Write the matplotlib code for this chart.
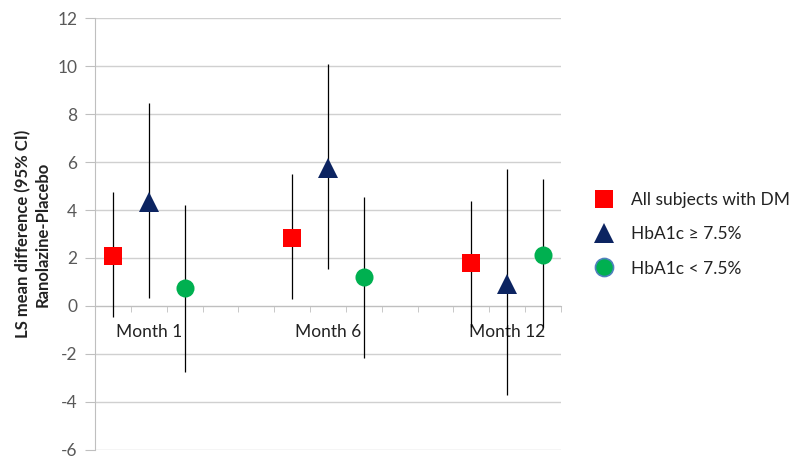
import numpy as np
import matplotlib.pyplot as plt
from matplotlib.lines import Line2D

# 13 category slots, like the original spreadsheet layout
categories = ["", "Month 1", "", "", "", "", "Month 6", "", "", "", "", "Month 12", ""]
nan = np.nan

# LS mean difference and 95% CI per series (NaN = empty slot)
all_dm = [2.1, nan, nan, nan, nan, 2.85, nan, nan, nan, nan, 1.78, nan, nan]
all_dm_lo = [-0.47, nan, nan, nan, nan, 0.28, nan, nan, nan, nan, -0.86, nan, nan]
all_dm_hi = [4.76, nan, nan, nan, nan, 5.49, nan, nan, nan, nan, 4.37, nan, nan]

hba_hi = [nan, 4.35, nan, nan, nan, nan, 5.75, nan, nan, nan, nan, 0.9, nan]
hba_hi_lo = [nan, 0.33, nan, nan, nan, nan, 1.54, nan, nan, nan, nan, -3.71, nan]
hba_hi_hi = [nan, 8.45, nan, nan, nan, nan, 10.07, nan, nan, nan, nan, 5.7, nan]

hba_lo = [nan, nan, 0.73, nan, nan, nan, nan, 1.22, nan, nan, nan, nan, 2.12]
hba_lo_lo = [nan, nan, -2.74, nan, nan, nan, nan, -2.17, nan, nan, nan, nan, -0.86]
hba_lo_hi = [nan, nan, 4.2, nan, nan, nan, nan, 4.53, nan, nan, nan, nan, 5.28]

series = [
    ("All subjects with DM", all_dm, all_dm_lo, all_dm_hi, "s", "#FF0000", "#FF0000"),
    ("HbA1c \u2265 7.5%", hba_hi, hba_hi_lo, hba_hi_hi, "^", "#0C2461", "#0C2461"),
    ("HbA1c < 7.5%", hba_lo, hba_lo_lo, hba_lo_hi, "o", "#00B050", "#4F81BD"),
]

plt.rcParams["font.family"] = ["Lato", "DejaVu Sans"]
plt.rcParams["axes.unicode_minus"] = False

fig = plt.figure(figsize=(8, 4.68), dpi=100)
ax = fig.add_axes([0.119, 0.0385, 0.582, 0.923])

x = np.arange(1, len(categories) + 1)
handles = []
for name, y, lo, hi, mk, col, legend_edge in series:
    y = np.array(y)
    yerr = np.vstack([y - np.array(lo), np.array(hi) - y])
    ax.errorbar(x, y, yerr=yerr, fmt="none", ecolor="black", elinewidth=0.9,
                capsize=0, zorder=3)
    ax.plot(x, y, linestyle="none", marker=mk, markersize=13 if mk != "^" else 14,
            color=col, markeredgewidth=0, zorder=4)
    handles.append(Line2D([], [], linestyle="none", marker=mk,
                          markersize=13 if mk != "^" else 14,
                          markerfacecolor=col, markeredgecolor=legend_edge,
                          markeredgewidth=1.2 if mk == "o" else 0, label=name))

ax.set_xlim(0.5, len(categories) + 0.5)
ax.set_ylim(-6, 12)
ax.set_yticks(np.arange(-6, 13, 2))
ax.grid(axis="y", color="#D0D0D0", linewidth=1)
ax.set_axisbelow(True)

# category axis crossing at zero
ax.spines["bottom"].set_position(("data", 0))
for s in ["top", "right"]:
    ax.spines[s].set_visible(False)
ax.spines["bottom"].set_color("#BFBFBF")
ax.spines["left"].set_color("#BFBFBF")

ax.set_xticks(x)
ax.set_xticklabels(categories, fontsize=12.5, color="#222222")
ax.tick_params(axis="x", length=0, pad=13)
ax.set_xticks(np.arange(0.5, len(categories) + 1, 1), minor=True)
ax.tick_params(axis="x", which="minor", length=4, color="#BFBFBF", direction="out")
ax.tick_params(axis="y", length=7, color="#BFBFBF", labelsize=12.5, labelcolor="#595959", pad=6)

ax.set_ylabel("LS mean difference (95% CI)\nRanolazine-Placebo", fontsize=12,
              fontweight="bold", color="#222222", labelpad=5)

fig.legend(handles=handles, loc="upper left", bbox_to_anchor=(0.714, 0.623),
           frameon=False, fontsize=12.5, handletextpad=0.55, labelspacing=1.05,
           labelcolor="#222222")

fig.savefig("out.png", dpi=100)
